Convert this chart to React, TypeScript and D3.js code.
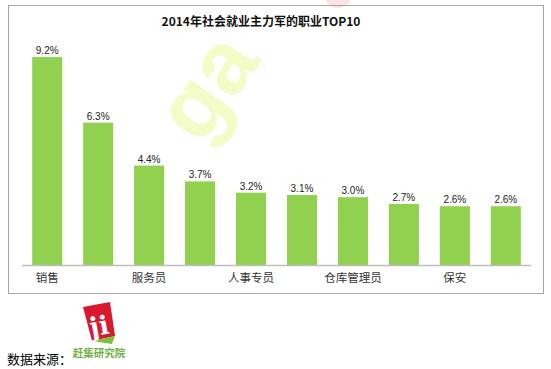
import React, { useRef, useEffect } from 'react';
import * as d3 from 'd3';

// chart data
const title = '2014年社会就业主力军的职业TOP10';
// only every other category name is shown on the axis
const categories = ['销售', '', '服务员', '', '人事专员', '', '仓库管理员', '', '保安', ''];
const shares = [9.2, 6.3, 4.4, 3.7, 3.2, 3.1, 3.0, 2.7, 2.6, 2.6];
const sourceLabel = '数据来源：';
const sourceName = '赶集研究院';

function App() {
  const svgRef = useRef<SVGSVGElement>(null);

  useEffect(() => {
    const svg = d3.select(svgRef.current);
    svg.selectAll('*').remove();

    const w = 551;
    const h = 369;
    const cjk = '"Noto Sans CJK SC", sans-serif';

    // watermark
    const wm = svg.append('g').attr('transform', 'translate(212,90) rotate(-55)');
    wm.append('text')
      .text('ga')
      .attr('text-anchor', 'middle')
      .attr('dominant-baseline', 'middle')
      .style('font-family', '"Liberation Sans", sans-serif')
      .style('font-weight', 'bold')
      .style('font-size', '90px')
      .attr('fill', '#f3fbc6');
    svg.append('circle')
      .attr('cx', 338).attr('cy', -6).attr('r', 14)
      .attr('fill', '#fde3e3');

    // frame
    svg.append('rect')
      .attr('x', 8.5).attr('y', 5.5)
      .attr('width', 535).attr('height', 288)
      .attr('fill', 'none')
      .attr('stroke', '#a6a6a6');

    svg.append('text')
      .text(title)
      .attr('x', 261).attr('y', 26)
      .attr('text-anchor', 'middle')
      .style('font-family', cjk)
      .style('font-weight', 'bold')
      .style('font-size', '12px')
      .attr('fill', '#111');

    // scales
    const x = d3.scaleBand<number>()
      .domain(d3.range(shares.length))
      .range([22, 531])
      .paddingInner(0.41)
      .paddingOuter(0.2);
    const y = d3.scaleLinear().domain([0, 10]).range([265, 39]);

    svg.selectAll('rect.bar')
      .data(shares)
      .join('rect')
        .attr('class', 'bar')
        .attr('x', (_, i) => x(i)!)
        .attr('y', d => y(d))
        .attr('width', x.bandwidth())
        .attr('height', d => y(0) - y(d))
        .attr('fill', '#92d050');

    svg.selectAll('text.val')
      .data(shares)
      .join('text')
        .attr('class', 'val')
        .text(d => d.toFixed(1) + '%')
        .attr('x', (_, i) => x(i)! + x.bandwidth() / 2)
        .attr('y', d => y(d) - 3)
        .attr('text-anchor', 'middle')
        .style('font-family', '"Liberation Sans", sans-serif')
        .style('font-size', '10px')
        .attr('fill', '#222');

    // category axis
    svg.append('line')
      .attr('x1', 22).attr('x2', 531)
      .attr('y1', 265.5).attr('y2', 265.5)
      .attr('stroke', '#bfbfbf')
      .attr('stroke-width', 1.5);

    svg.selectAll('text.cat')
      .data(categories)
      .join('text')
        .attr('class', 'cat')
        .text(d => d)
        .attr('x', (_, i) => x(i)! + x.bandwidth() / 2)
        .attr('y', 282)
        .attr('text-anchor', 'middle')
        .style('font-family', cjk)
        .style('font-size', '11.5px')
        .attr('fill', '#333');

    // source + logo
    svg.append('text')
      .text(sourceLabel)
      .attr('x', 7).attr('y', 364)
      .style('font-family', cjk)
      .style('font-size', '13px')
      .attr('fill', '#000');

    const logo = svg.append('g');
    logo.append('path')
      .attr('d', 'M83,307 L110,302 L115,336 L92,341 Z')
      .attr('fill', '#d7192f');
    logo.append('path')
      .attr('d', 'M92,341 L115,336 L112,344 Z')
      .attr('fill', '#7cbf3a');
    logo.append('text')
      .text('ji')
      .attr('x', 99).attr('y', 335)
      .attr('text-anchor', 'middle')
      .attr('transform', 'rotate(-10,99,325)')
      .style('font-family', '"DejaVu Serif", serif')
      .style('font-weight', 'bold')
      .style('font-size', '26px')
      .attr('fill', '#fff');
    logo.append('text')
      .text(sourceName)
      .attr('x', 99).attr('y', 357)
      .attr('text-anchor', 'middle')
      .style('font-family', cjk)
      .style('font-weight', 'bold')
      .style('font-size', '10.5px')
      .attr('fill', '#6db33f');

    svg.attr('width', w).attr('height', h);
  }, []);

  return (
    <svg ref={svgRef} style={{ position: 'absolute', left: 0, top: 0 }} />
  );
}

export default App;
